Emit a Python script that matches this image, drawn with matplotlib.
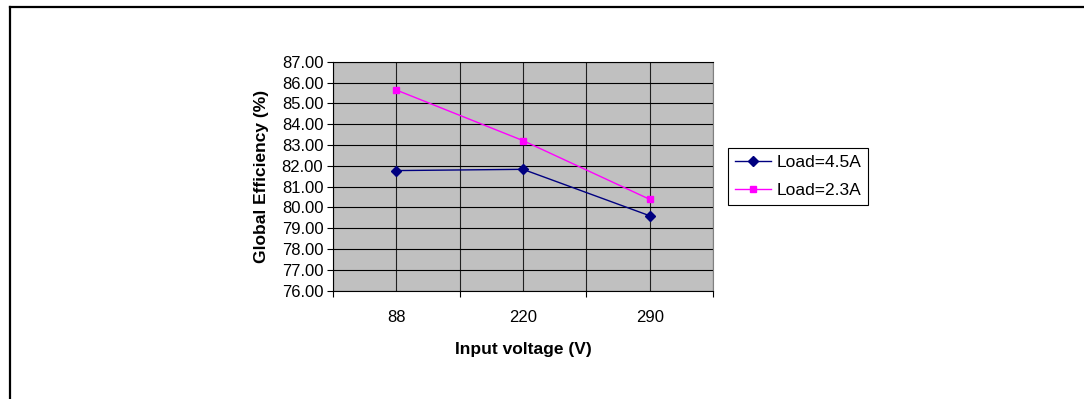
import matplotlib
matplotlib.use('Agg')
import matplotlib.pyplot as plt
from matplotlib.lines import Line2D

plt.rcParams['font.family'] = ['Liberation Sans', 'DejaVu Sans']

# input voltage categories and measured efficiency per load
voltages = ['88', '220', '290']
load_45 = [81.77, 81.83, 79.60]
load_23 = [85.64, 83.21, 80.39]
series_names = ['Load=4.5A', 'Load=2.3A']
y_ticks = list(range(76, 88))

W, H = 1084, 399
fig = plt.figure(figsize=(W / 100, H / 100), dpi=100)

# frame around the figure (left and top edges only)
fx = 10 / W
fy = 1 - 7 / H
fig.add_artist(Line2D([fx, fx], [fy, 0], transform=fig.transFigure,
                      color='black', lw=1.6, solid_capstyle='projecting'))
fig.add_artist(Line2D([fx, 1], [fy, fy], transform=fig.transFigure,
                      color='black', lw=1.6, solid_capstyle='projecting'))

left, right, top, bottom = 333, 713, 61.7, 290.7
ax = fig.add_axes([left / W, 1 - bottom / H, (right - left) / W, (bottom - top) / H])
ax.set_facecolor('#C0C0C0')

x = list(range(len(voltages)))
ax.plot(x, load_45, color='#000080', lw=1.0, marker='D', ms=5.5,
        label=series_names[0], zorder=3)
ax.plot(x, load_23, color='#FF00FF', lw=1.0, marker='s', ms=5,
        label=series_names[1], zorder=3)

ax.set_xlim(-0.5, len(voltages) - 0.5)
ax.set_ylim(y_ticks[0], y_ticks[-1])

# category axis: labels at centres, tick marks on the boundaries
ax.set_xticks(x)
ax.set_xticklabels(voltages)
ax.set_xticks([i - 0.5 for i in range(len(voltages) + 1)], minor=True)
ax.tick_params(axis='x', which='major', length=0, pad=14, labelsize=12)
ax.tick_params(axis='x', which='minor', length=4, width=0.8, direction='out')

ax.set_yticks(y_ticks)
ax.set_yticklabels(['%.2f' % v for v in y_ticks])
ax.tick_params(axis='y', length=4, width=0.8, direction='out', pad=3, labelsize=12)

ax.grid(True, axis='y', color='black', lw=0.8)
ax.grid(True, axis='x', which='both', color='#202020', lw=0.8)
ax.set_axisbelow(True)

for side in ['left', 'bottom', 'top']:
    ax.spines[side].set_color('black')
    ax.spines[side].set_linewidth(0.8)
ax.spines['right'].set_color('#808080')
ax.spines['right'].set_linewidth(0.8)

ax.set_xlabel('Input voltage (V)', fontsize=12.5, fontweight='bold', labelpad=12)
ax.set_ylabel('Global Efficiency (%)', fontsize=12.5, fontweight='bold', labelpad=9)

leg = ax.legend(loc='upper left', bbox_to_anchor=(728 / W, 1 - 147.7 / H),
                bbox_transform=fig.transFigure, borderaxespad=0,
                fontsize=12.5, fancybox=False, edgecolor='black', framealpha=1,
                handlelength=2.1, handletextpad=0.3, borderpad=0.4,
                labelspacing=0.75)
leg.get_frame().set_linewidth(0.8)

fig.savefig('out.png', dpi=100)
